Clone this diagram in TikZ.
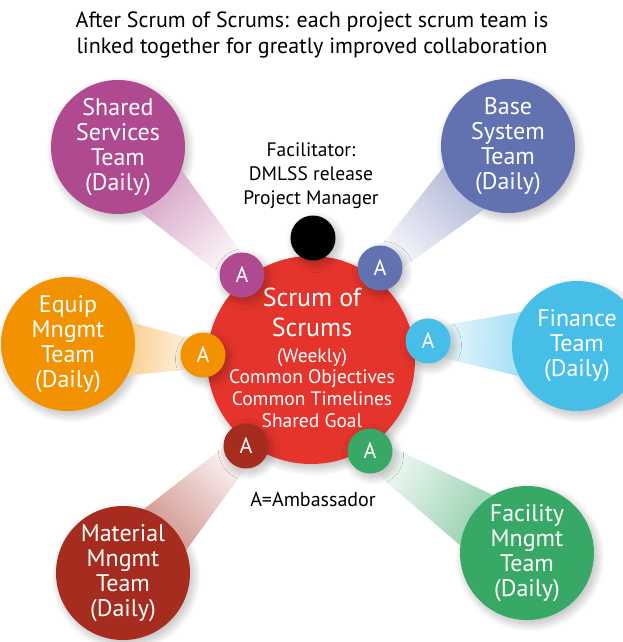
\documentclass[tikz,border=0pt]{standalone}
\usepackage{fontspec}
\setmainfont{PT Sans}
\usetikzlibrary{calc,shadows.blur}

\definecolor{cSS}{RGB}{176,74,144}
\definecolor{cBase}{RGB}{98,113,176}
\definecolor{cEquip}{RGB}{242,146,0}
\definecolor{cFin}{RGB}{70,190,232}
\definecolor{cFac}{RGB}{55,168,102}
\definecolor{cMat}{RGB}{165,44,30}
\definecolor{cSoS}{RGB}{229,52,44}

% a light wedge joining an ambassador (#1) to its team circle (#2)
\newcommand\beam[5]{%
  \shade[top color=#3!6, bottom color=#3!75, shading angle=#4]
    ($(#1)!13pt!90:(#2)$) -- ($(#2)!#5!-90:(#1)$) --
    ($(#2)!#5!90:(#1)$) -- ($(#1)!13pt!-90:(#2)$) -- cycle;}

\begin{document}
\begin{tikzpicture}[x=1pt,y=-1pt,
  softshadow/.style={blur shadow={shadow xshift=3pt, shadow yshift=-4pt,
      shadow blur radius=8pt, shadow blur steps=24, shadow opacity=28}},
  team/.style={circle, minimum size=134pt, inner sep=0pt, text=white,
      align=center, font=\fontsize{24}{25}\selectfont},
  amb/.style={circle, minimum size=45pt, inner sep=0pt, text=white,
      font=\fontsize{22}{24}\selectfont, softshadow},
  label/.style={align=center, text=black, font=\fontsize{19.5}{24}\selectfont},
]
\useasboundingbox (0,0) rectangle (623,642);

% heading
\node[align=center, font=\fontsize{22}{26.5}\selectfont] (title) at (312,35)
  {After Scrum of Scrums: each project scrum team is\\
   linked together for greatly improved collaboration};

% anchor points
\coordinate (pSS) at (118,147);
\coordinate (pBase) at (508,146);
\coordinate (pEquip) at (68,344);
\coordinate (pFin) at (577,346);
\coordinate (pFac) at (527,553);
\coordinate (pMat) at (123,573);
\coordinate (qSS) at (242,275);
\coordinate (qBase) at (380,268);
\coordinate (qEquip) at (203,355);
\coordinate (qFin) at (428,341);
\coordinate (qFac) at (370,451);
\coordinate (qMat) at (246,446);

% soft shadows of the team circles, laid under the wedges
\foreach \p/\r in {pSS/67, pBase/67, pEquip/67, pFin/65, pFac/67, pMat/67}
  \path[softshadow] (\p) circle (\r);

% wedges between ambassadors and teams
\beam{qSS}{pSS}{cSS}{-136}{38pt}
\beam{qBase}{pBase}{cBase}{134}{38pt}
\beam{qEquip}{pEquip}{cEquip}{-95}{38pt}
\beam{qFin}{pFin}{cFin}{88}{44pt}
\beam{qFac}{pFac}{cFac}{58}{38pt}
\beam{qMat}{pMat}{cMat}{-45}{38pt}

% team circles
\node[team, fill=cSS] (ss) at (pSS) {Shared\\Services\\Team\\(Daily)};
\node[team, fill=cBase] (base) at (pBase) {Base\\System\\Team\\(Daily)};
\node[team, fill=cEquip] (equip) at (pEquip) {Equip\\Mngmt\\Team\\(Daily)};
\node[team, fill=cFin, minimum size=130pt] (fin) at (pFin) {Finance\\Team\\(Daily)};
\node[team, fill=cFac] (fac) at (pFac) {Facility\\Mngmt\\Team\\(Daily)};
\node[team, fill=cMat] (mat) at (pMat) {Material\\Mngmt\\Team\\(Daily)};

% central scrum of scrums
\node[circle, fill=cSoS, minimum size=208pt, inner sep=0pt, softshadow] (sos) at (311,360) {};
\node[align=center, text=white, font=\fontsize{26}{30}\selectfont] (sostitle) at (312,312)
  {Scrum of\\Scrums};
\node[align=center, text=white, font=\fontsize{19.5}{21.8}\selectfont] (sosbody) at (312,388)
  {(Weekly)\\Common Objectives\\Common Timelines\\Shared Goal};

% facilitator
\node[circle, fill=black, minimum size=45pt, inner sep=0pt, softshadow] (lead) at (313,238) {};
\node[label] (leadtext) at (311,176) {Facilitator:\\DMLSS release\\Project Manager};

% ambassadors
\node[amb, fill=cSS] (aSS) at (qSS) {A};
\node[amb, fill=cBase] (aBase) at (qBase) {A};
\node[amb, fill=cEquip] (aEquip) at (qEquip) {A};
\node[amb, fill=cFin] (aFin) at (qFin) {A};
\node[amb, fill=cFac] (aFac) at (qFac) {A};
\node[amb, fill=cMat] (aMat) at (qMat) {A};

\node[label, font=\fontsize{20}{22}\selectfont] (key) at (313,500) {A=Ambassador};
\end{tikzpicture}
\end{document}
